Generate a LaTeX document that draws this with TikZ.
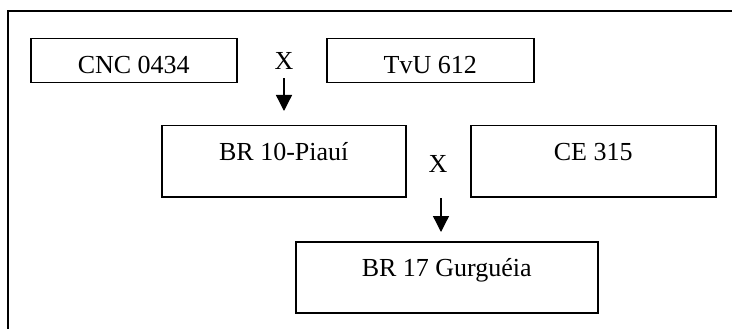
\documentclass[tikz,border=0pt]{standalone}
\usepackage{fontspec}
\setmainfont{Liberation Serif}
\usetikzlibrary{arrows.meta}
\begin{document}
\begin{tikzpicture}[x=1pt,y=-1pt,
  box/.style={draw,line width=1.5pt,inner sep=0pt,anchor=north west,text height=35pt,font=\fontsize{26}{30}\selectfont},
  xlabel/.style={inner sep=0pt,anchor=base,font=\fontsize{26}{30}\selectfont},
  arr/.style={line width=1.3pt,-{Triangle[length=16pt,width=16pt]}}]
\useasboundingbox (0,0) rectangle (732,329);
\draw[line width=1.5pt] (732,11) -- (8,11) -- (8,329);
\node[box,minimum width=206pt,text depth=9pt] (cnc) at (30,38) {CNC 0434};
\node[box,minimum width=207pt,text depth=9pt] (tvu) at (326,38) {TvU 612};
\node[xlabel] (x1) at (284,70) {X};
\node[box,minimum width=244pt,text depth=36pt] (br10) at (161,125) {BR 10-Piauí};
\node[box,minimum width=245pt,text depth=36pt] (ce) at (470,125) {CE 315};
\node[xlabel] (x2) at (438,172) {X};
\node[box,minimum width=302pt,text depth=36pt] (gur) at (295,241) {BR 17 Gurguéia};
\draw[arr,shorten <=8pt,shorten >=14pt] (x1.south) -- (x1.south |- br10.north);
\coordinate (a2) at (441,198);
\draw[arr,shorten >=9pt] (a2) -- (a2 |- gur.north);
\end{tikzpicture}
\end{document}
